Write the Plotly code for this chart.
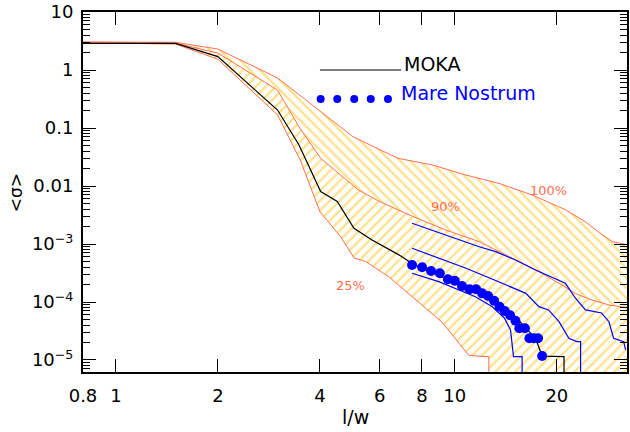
import plotly.graph_objects as go

# ---------------- data ----------------
P100_X = [0.8, 1.5, 2.0, 3.0, 5.0, 6.8, 8.6, 10.75, 13.5, 16.9, 21.2, 24.3, 26.6, 29.1, 32.5]
P100_Y = [3.05, 3.0, 2.3, 0.73, 0.071, 0.030, 0.023, 0.0155, 0.0111, 0.0070, 0.0039, 0.0024,
          0.0016, 0.0011, 0.00096]

P90_X = [0.8, 1.5, 2.0, 3.0, 3.47, 4.02, 5.2, 6.0, 7.5, 9.4, 11.8, 14.1, 15.4, 17.3, 20.3,
         22.7, 25.4, 28.5, 32.5]
P90_Y = [3.0, 2.9, 1.96, 0.45, 0.105, 0.030, 0.0085, 0.0054, 0.0030, 0.00174, 0.0011, 0.00065,
         0.0005, 0.00036, 0.00021, 0.00014, 0.000108, 8.9e-5, 7.9e-5]

P25_X = [0.8, 1.5, 2.0, 3.0, 3.5, 4.0, 4.6, 5.05, 5.45, 6.4, 9.2, 11.0, 12.6, 12.6, 35]
P25_Y = [2.95, 2.8, 1.53, 0.168, 0.028, 0.0036, 0.00134, 0.00057, 0.0005, 0.00027, 4.4e-5,
         1.2e-5, 1.14e-5, 1e-7, 1e-7]

MOKA_X = [0.8, 1.5, 2.0, 3.0, 3.47, 4.02, 4.5, 5.04, 5.7, 6.84, 7.48, 9.54, 11.0, 13.0,
          15.4, 17.3, 18.1, 21.0, 21.0]
MOKA_Y = [2.88, 2.88, 1.70, 0.204, 0.051, 0.0080, 0.0054, 0.00187, 0.00117, 0.00065, 0.00046,
          0.000246, 0.000168, 0.000105, 4.9e-5, 2.37e-5, 1.17e-5, 1.14e-5, 1e-7]

MN_X = [7.48, 8.01, 8.51, 9.03, 9.54, 10.0, 10.5, 11.05, 11.56, 12.04, 12.54, 13.06, 13.55,
        14.04, 14.56, 15.1, 15.5, 16.1, 16.6, 17.1, 17.6, 18.1]
MN_Y = [0.000434, 0.000396, 0.000342, 0.000313, 0.000246, 0.000233, 0.000189, 0.000166,
        0.000166, 0.000141, 0.000127, 0.000105, 8.3e-5, 7.0e-5, 5.9e-5, 4.76e-5, 3.52e-5,
        3.52e-5, 2.37e-5, 2.37e-5, 2.37e-5, 1.17e-5]

MN_HI_X = [7.48, 9.39, 11.8, 13.2, 15.1, 17.3, 21.2, 22.7, 24.3, 27.1, 28.5, 29.4, 31.5, 31.9]
MN_HI_Y = [0.00228, 0.00143, 0.000898, 0.000737, 0.00053, 0.000356, 0.00021, 0.000116,
           7.3e-5, 6.46e-5, 4.57e-5, 2.37e-5, 2.07e-5, 1.49e-5]

MN_MID_X = [7.48, 10.75, 13.8, 16.2, 17.7, 18.9, 20.3, 21.7, 22.9, 23.5, 23.5]
MN_MID_Y = [0.000843, 0.000386, 0.00021, 0.000141, 8.3e-5, 7.3e-5, 4.57e-5, 2.37e-5,
            2.07e-5, 2.07e-5, 1e-7]

MN_LO_X = [7.48, 8.97, 11.5, 12.9, 14.0, 14.6, 14.9, 15.8, 15.8]
MN_LO_Y = [0.000313, 0.000224, 0.000123, 8.3e-5, 5.3e-5, 3.3e-5, 1.14e-5, 1.14e-5, 1e-7]

X_TICKS = [0.8, 1, 2, 4, 6, 8, 10, 20]
X_TICKTEXT = ["0.8", "1", "2", "4", "6", "8", "10", "20"]
Y_TICKS = [10, 1, 0.1, 0.01, 1e-3, 1e-4, 1e-5]
Y_TICKTEXT = ["10", "1", "0.1", "0.01", "10<sup>−3</sup>", "10<sup>−4</sup>", "10<sup>−5</sup>"]

LEG_LINE_X = [4.0, 6.95]
LEG_LINE_Y = [1.0, 1.0]
LEG_DOT_X = [4.02, 4.50, 5.05, 5.65, 6.35]
LEG_DOT_Y = [0.316] * 5

# ---------------- styling ----------------
ORANGE = "#FF6E50"
HATCH = "#FFC000"
BLUE = "#0000FF"
FONT = "DejaVu Sans"

fig = go.Figure()

fig.add_trace(go.Scatter(x=P25_X, y=P25_Y, mode="lines",
                         line=dict(color=ORANGE, width=1), showlegend=False))
fig.add_trace(go.Scatter(x=P90_X, y=P90_Y, mode="lines", fill="tonexty",
                         fillcolor="rgba(0,0,0,0)",
                         fillpattern=dict(shape="/", fgcolor=HATCH, bgcolor="rgba(0,0,0,0)",
                                          size=7, solidity=0.3),
                         line=dict(color=ORANGE, width=1), showlegend=False))
fig.add_trace(go.Scatter(x=P100_X, y=P100_Y, mode="lines", fill="tonexty",
                         fillcolor="rgba(0,0,0,0)",
                         fillpattern=dict(shape="\\", fgcolor=HATCH, bgcolor="rgba(0,0,0,0)",
                                          size=7, solidity=0.3),
                         line=dict(color=ORANGE, width=1), showlegend=False))

for xs, ys in [(MN_HI_X, MN_HI_Y), (MN_MID_X, MN_MID_Y), (MN_LO_X, MN_LO_Y)]:
    fig.add_trace(go.Scatter(x=xs, y=ys, mode="lines",
                             line=dict(color=BLUE, width=1.2), showlegend=False))

fig.add_trace(go.Scatter(x=MOKA_X, y=MOKA_Y, mode="lines",
                         line=dict(color="black", width=1.2), showlegend=False))
fig.add_trace(go.Scatter(x=MN_X, y=MN_Y, mode="markers",
                         marker=dict(color=BLUE, size=10), showlegend=False))

# in-plot legend
fig.add_trace(go.Scatter(x=LEG_LINE_X, y=LEG_LINE_Y, mode="lines",
                         line=dict(color="black", width=1.2), showlegend=False))
fig.add_trace(go.Scatter(x=LEG_DOT_X, y=LEG_DOT_Y, mode="markers",
                         marker=dict(color=BLUE, size=8), showlegend=False))

annos = [
    dict(x=0.8437, y=0.103, text="MOKA", color="black", size=19, xanchor="left"),
    dict(x=0.835, y=-0.402, text="Mare Nostrum", color=BLUE, size=19, xanchor="left"),
    dict(x=1.277, y=-2.069, text="100%", color=ORANGE, size=13, xanchor="center"),
    dict(x=0.9726, y=-2.345, text="90%", color=ORANGE, size=13, xanchor="center"),
    dict(x=0.692, y=-3.719, text="25%", color=ORANGE, size=13, xanchor="center"),
]
for a in annos:
    fig.add_annotation(x=a["x"], y=a["y"], xref="x", yref="y", text=a["text"],
                       showarrow=False, xanchor=a["xanchor"], yanchor="middle",
                       font=dict(family=FONT, size=a["size"], color=a["color"]))

fig.add_annotation(x=0.5, y=-0.125, xref="paper", yref="paper", text="l/w",
                   showarrow=False, xanchor="center", yanchor="middle",
                   font=dict(family=FONT, size=19, color="black"))
fig.add_annotation(x=-0.123, y=0.497, xref="paper", yref="paper", text="&lt;σ&gt;",
                   showarrow=False, xanchor="center", yanchor="middle", textangle=-90,
                   font=dict(family=FONT, size=17, color="black"))

minor_y = [k * 10.0 ** d for d in range(-6, 1) for k in range(2, 10)]

fig.update_xaxes(type="log", range=[-0.0969, 1.508], tickmode="array",
                 tickvals=X_TICKS, ticktext=X_TICKTEXT, ticks="inside", ticklen=13,
                 tickwidth=1.3, tickcolor="black", showline=True, linecolor="black",
                 linewidth=2, mirror="ticks", showgrid=False, zeroline=False,
                 ticklabelstandoff=6, automargin=False, ticklabeloverflow="allow",
                 tickfont=dict(family=FONT, size=18, color="black"))
fig.update_yaxes(type="log", range=[-5.207, 1.0], tickmode="array",
                 tickvals=Y_TICKS, ticktext=Y_TICKTEXT, ticks="inside", ticklen=13,
                 tickwidth=1.3, tickcolor="black", showline=True, linecolor="black",
                 linewidth=2, mirror="ticks", showgrid=False, zeroline=False,
                 ticklabelstandoff=4, automargin=False, ticklabeloverflow="allow",
                 minor=dict(tickmode="array", tickvals=minor_y, ticks="inside",
                            ticklen=7, tickwidth=1, tickcolor="black", showgrid=False),
                 tickfont=dict(family=FONT, size=18, color="black"))

fig.update_layout(width=630, height=432, margin=dict(l=83, r=3, t=12, b=60),
                  plot_bgcolor="white", paper_bgcolor="white", showlegend=False)

# remove the browser's default 8px body margin so the figure fills the window
fig.write_html("out.html", config={"displayModeBar": False},
               post_script="document.body.style.margin='0px';")
